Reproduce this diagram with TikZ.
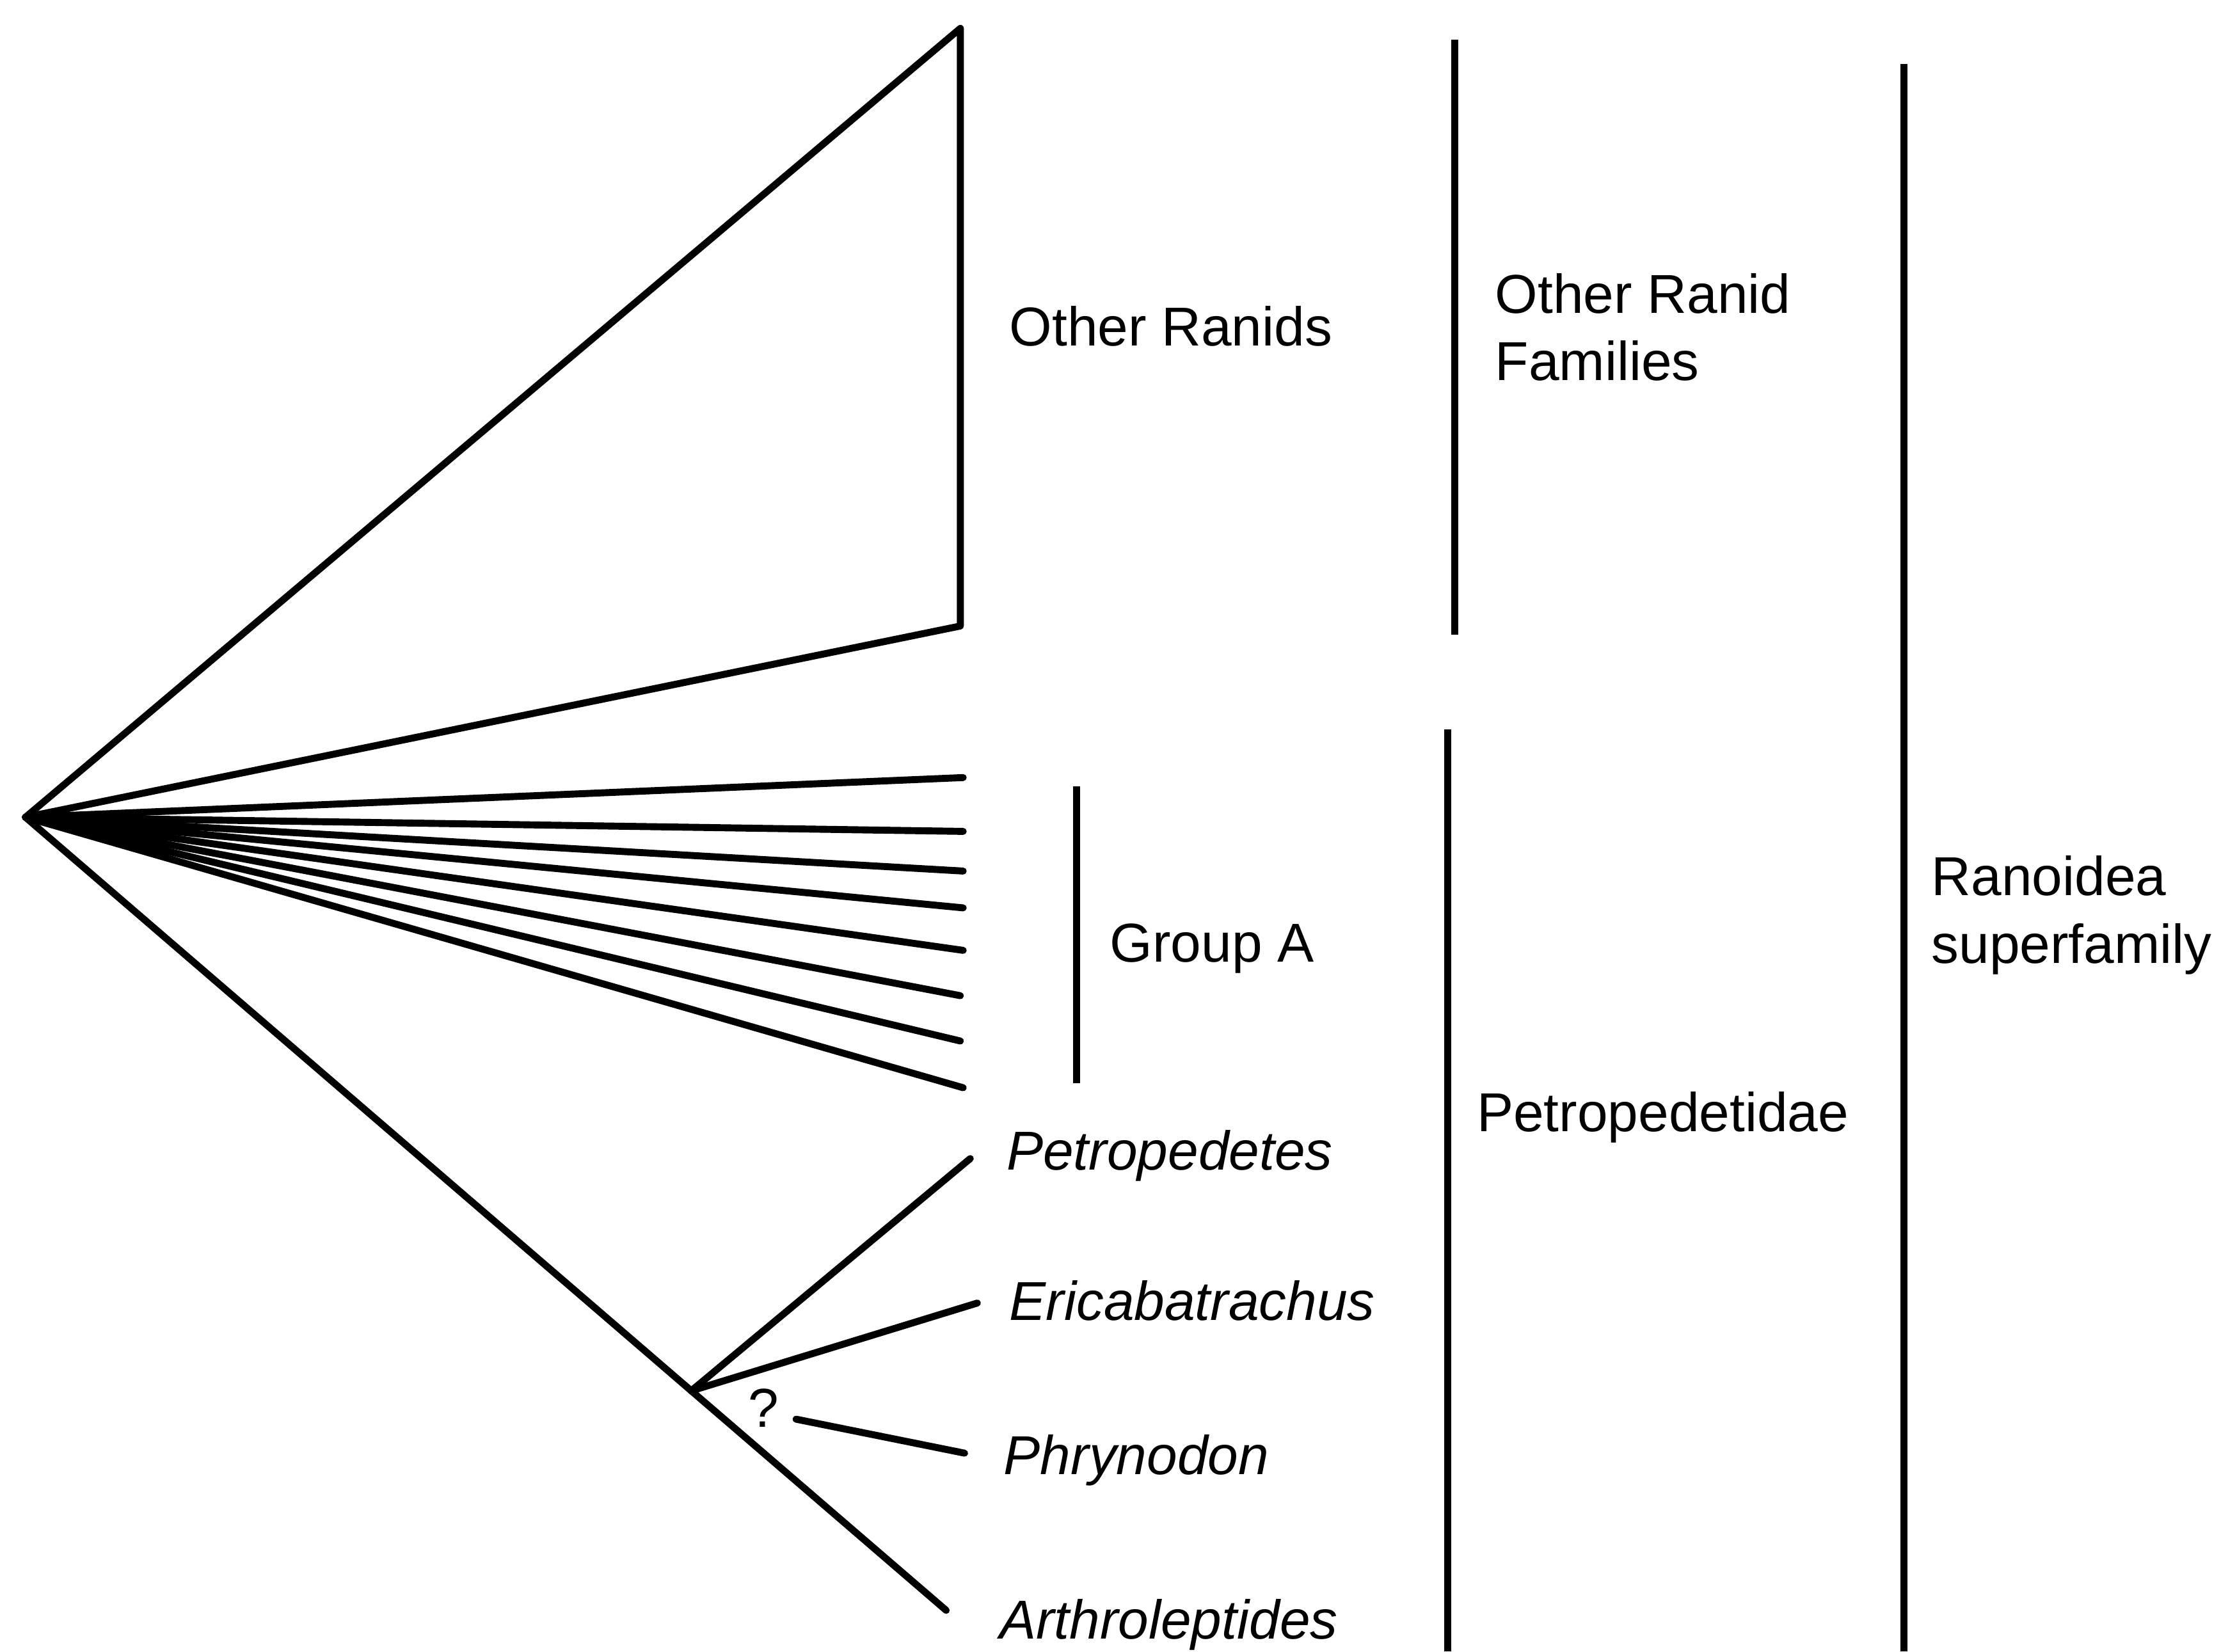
\documentclass[tikz,border=0pt]{standalone}
\usepackage{fontspec}
\setmainfont{Liberation Sans}
\usepackage{tikz}
\usetikzlibrary{positioning}
\tikzset{
    branch/.style={line width=1.4pt, line cap=round, line join=round},
    cladebar/.style={line width=1.4pt},
    taxon/.style={font=\fontsize{11}{13.6}\selectfont, inner sep=0pt, anchor=base west},
    genus/.style={taxon, font=\fontsize{11}{13.6}\selectfont\itshape},
    grouplabel/.style={font=\fontsize{11}{13.6}\selectfont, inner sep=0pt, anchor=west, align=left}
}

\begin{document}
\begin{tikzpicture}[x=0.01cm, y=-0.01cm]
            \useasboundingbox (0,0) rectangle (1568,1166);

            % tree tips
            \coordinate (root) at (18,577);
            \coordinate (ranidtop) at (678,20);
            \coordinate (ranidbot) at (678,442);
            \coordinate (ga1) at (680,549);
            \coordinate (ga2) at (680,587);
            \coordinate (ga3) at (680,615);
            \coordinate (ga4) at (680,641);
            \coordinate (ga5) at (680,671);
            \coordinate (ga6) at (678,703);
            \coordinate (ga7) at (678,735);
            \coordinate (ga8) at (680,768);
            \coordinate (split) at (488,982);
            \coordinate (petro) at (685,818);
            \coordinate (erica) at (690,920);
            \coordinate (phrystart) at (562,1002);
            \coordinate (phryno) at (681,1026);
            \coordinate (arthro) at (668,1137);

            % other ranids collapsed clade
            \draw[branch] (root) -- (ranidtop) -- (ranidbot) -- cycle;

            % group A polytomy
            \draw[branch] (root) -- (ga1);
            \draw[branch] (root) -- (ga2);
            \draw[branch] (root) -- (ga3);
            \draw[branch] (root) -- (ga4);
            \draw[branch] (root) -- (ga5);
            \draw[branch] (root) -- (ga6);
            \draw[branch] (root) -- (ga7);
            \draw[branch] (root) -- (ga8);

            % petropedetine clade
            \draw[branch] (root) -- (arthro);
            \draw[branch] (split) -- (petro);
            \draw[branch] (split) -- (erica);
            \draw[branch] (phrystart) -- (phryno);
            \node[font=\fontsize{11}{13.6}\selectfont, inner sep=0pt] (query) at (539,994) {?};

            % tip labels
            \node[taxon] (otherranids) at (712,244) {Other Ranids};
            \node[taxon] (groupa) at (783,679) {Group A};
            \node[genus] (petropedetes) at (710,826) {Petropedetes};
            \node[genus] (ericabatrachus) at (712,932) {Ericabatrachus};
            \node[genus] (phrynodon) at (708,1041) {Phrynodon};
            \node[genus] (arthroleptides) at (705,1157) {Arthroleptides};

            % classification bars
            \coordinate (gatop) at (760,555);
            \coordinate (gabot) at (760,765);
            \coordinate (famtop) at (1027,28);
            \coordinate (fambot) at (1027,448);
            \coordinate (petrotop) at (1022,515);
            \coordinate (petrobot) at (1022,1166);
            \coordinate (ranoitop) at (1344,45);
            \coordinate (ranoibot) at (1344,1166);
            \draw[cladebar] (gatop) -- (gabot);
            \draw[cladebar] (famtop) -- (fambot);
            \draw[cladebar] (petrotop) -- (petrobot);
            \draw[cladebar] (ranoitop) -- (ranoibot);

            \node[grouplabel] (families) at (1055,231) {Other Ranid\\Families};
            \node[taxon] (petropedetidae) at (1042,799) {Petropedetidae};
            \node[grouplabel] (ranoidea) at (1363,646) {Ranoidea\\superfamily};
        \end{tikzpicture}
\end{document}
